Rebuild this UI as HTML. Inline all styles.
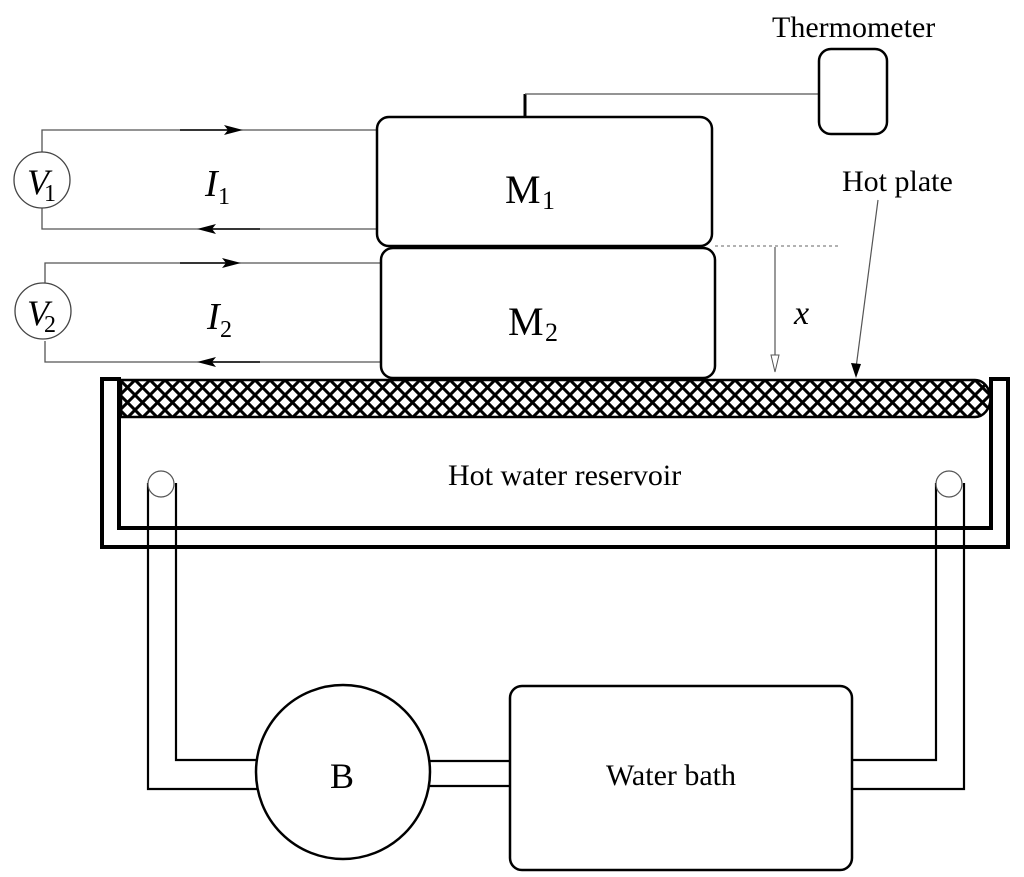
<!DOCTYPE html>
<html><head><style>
html,body{margin:0;padding:0;background:#fff;}
svg{display:block;}
text{font-family:"Liberation Serif",serif;fill:#000;}
</style></head><body>
<svg width="1024" height="877" viewBox="0 0 1024 877" xmlns="http://www.w3.org/2000/svg">
<defs>
<pattern id="hatch" width="15" height="15" patternUnits="userSpaceOnUse" x="120" y="380">
<rect width="15" height="15" fill="#fff"/>
<path d="M-2,-2 L17,17 M-2,13 L2,17 M13,-2 L17,2 M17,-2 L-2,17 M-2,2 L2,-2 M13,17 L17,13" stroke="#000" stroke-width="3"/>
</pattern>
</defs>

<g stroke="#555" stroke-width="1.3" fill="none">
<polyline points="376,130 42,130 42,152"/>
<polyline points="42,208 42,229 376,229"/>
<polyline points="380,263 45,263 45,285"/>
<polyline points="45,341 45,362 380,362"/>
</g>
<circle cx="42" cy="180" r="28" fill="#fff" stroke="#444" stroke-width="1.3"/>
<circle cx="43" cy="311" r="28" fill="#fff" stroke="#444" stroke-width="1.3"/>
<text x="27" y="194" font-size="36" font-style="italic">V</text><text x="44" y="201" font-size="24">1</text>
<text x="27" y="325" font-size="36" font-style="italic">V</text><text x="44" y="332" font-size="24">2</text>
<text x="205" y="196" font-size="38" font-style="italic">I</text><text x="218" y="204" font-size="24">1</text>
<text x="207" y="329" font-size="38" font-style="italic">I</text><text x="220" y="337" font-size="24">2</text>
<g stroke="#000" stroke-width="1.5">
<line x1="180" y1="130" x2="230" y2="130"/>
<line x1="210" y1="229" x2="260" y2="229"/>
<line x1="180" y1="263" x2="230" y2="263"/>
<line x1="210" y1="362" x2="260" y2="362"/>
</g>
<g fill="#000">
<polygon points="243,130 224,125 228,130 224,135"/>
<polygon points="197,229 216,224 212,229 216,234"/>
<polygon points="241,263 222,258 226,263 222,268"/>
<polygon points="197,362 216,357 212,362 216,367"/>
</g>

<rect x="377" y="117" width="335" height="129" rx="12" fill="#fff" stroke="#000" stroke-width="2.5"/>
<rect x="381" y="248" width="334" height="130" rx="12" fill="#fff" stroke="#000" stroke-width="2.5"/>
<text x="505" y="203" font-size="40">M</text><text x="542" y="209" font-size="26">1</text>
<text x="508" y="335" font-size="40">M</text><text x="545" y="341" font-size="26">2</text>

<line x1="525" y1="94" x2="525" y2="117" stroke="#000" stroke-width="3"/>
<line x1="525" y1="94" x2="818" y2="94" stroke="#555" stroke-width="1.3"/>
<rect x="819" y="49" width="68" height="85" rx="12" fill="#fff" stroke="#000" stroke-width="2.5"/>
<text x="772" y="37" font-size="30">Thermometer</text>
<text x="842" y="191" font-size="30">Hot plate</text>
<line x1="878" y1="200" x2="856" y2="368" stroke="#555" stroke-width="1.2"/>
<polygon points="856,378 851,363 861,364" fill="#000"/>

<line x1="715" y1="246" x2="840" y2="246" stroke="#666" stroke-width="1" stroke-dasharray="3,3"/>
<line x1="775" y1="247" x2="775" y2="370" stroke="#555" stroke-width="1.2"/>
<polygon points="775,372 771,355 779,355" fill="#fff" stroke="#555" stroke-width="1"/>
<text x="794" y="324" font-size="34" font-style="italic">x</text>

<g stroke="#000" stroke-width="4" fill="none">
<polyline points="119,380 119,528 991,528 991,380"/>
<polyline points="102,380 102,547 1008,547 1008,380"/>
<line x1="100" y1="379" x2="121" y2="379"/>
<line x1="989" y1="379" x2="1010" y2="379"/>
</g>
<path d="M121,380 L975,380 A15,18 0 0 1 975,417 L121,417 Z" fill="url(#hatch)" stroke="#000" stroke-width="2.5"/>
<text x="448" y="485" font-size="30">Hot water reservoir</text>

<g stroke="#000" stroke-width="2.2" fill="none">
<polyline points="148,483 148,789 258,789"/>
<polyline points="176,483 176,760 258,760"/>
<polyline points="936,483 936,760 852,760"/>
<polyline points="964,483 964,789 852,789"/>
<line x1="430" y1="761" x2="512" y2="761"/>
<line x1="430" y1="786" x2="512" y2="786"/>
</g>
<circle cx="161" cy="484" r="13" fill="#fff" stroke="#555" stroke-width="1.2"/>
<circle cx="949" cy="484" r="13" fill="#fff" stroke="#555" stroke-width="1.2"/>

<circle cx="343" cy="772" r="87" fill="#fff" stroke="#000" stroke-width="2.5"/>
<text x="330" y="788" font-size="36">B</text>
<rect x="510" y="686" width="342" height="184" rx="12" fill="#fff" stroke="#000" stroke-width="2.5"/>
<text x="606" y="785" font-size="30">Water bath</text>
</svg>
</body></html>
